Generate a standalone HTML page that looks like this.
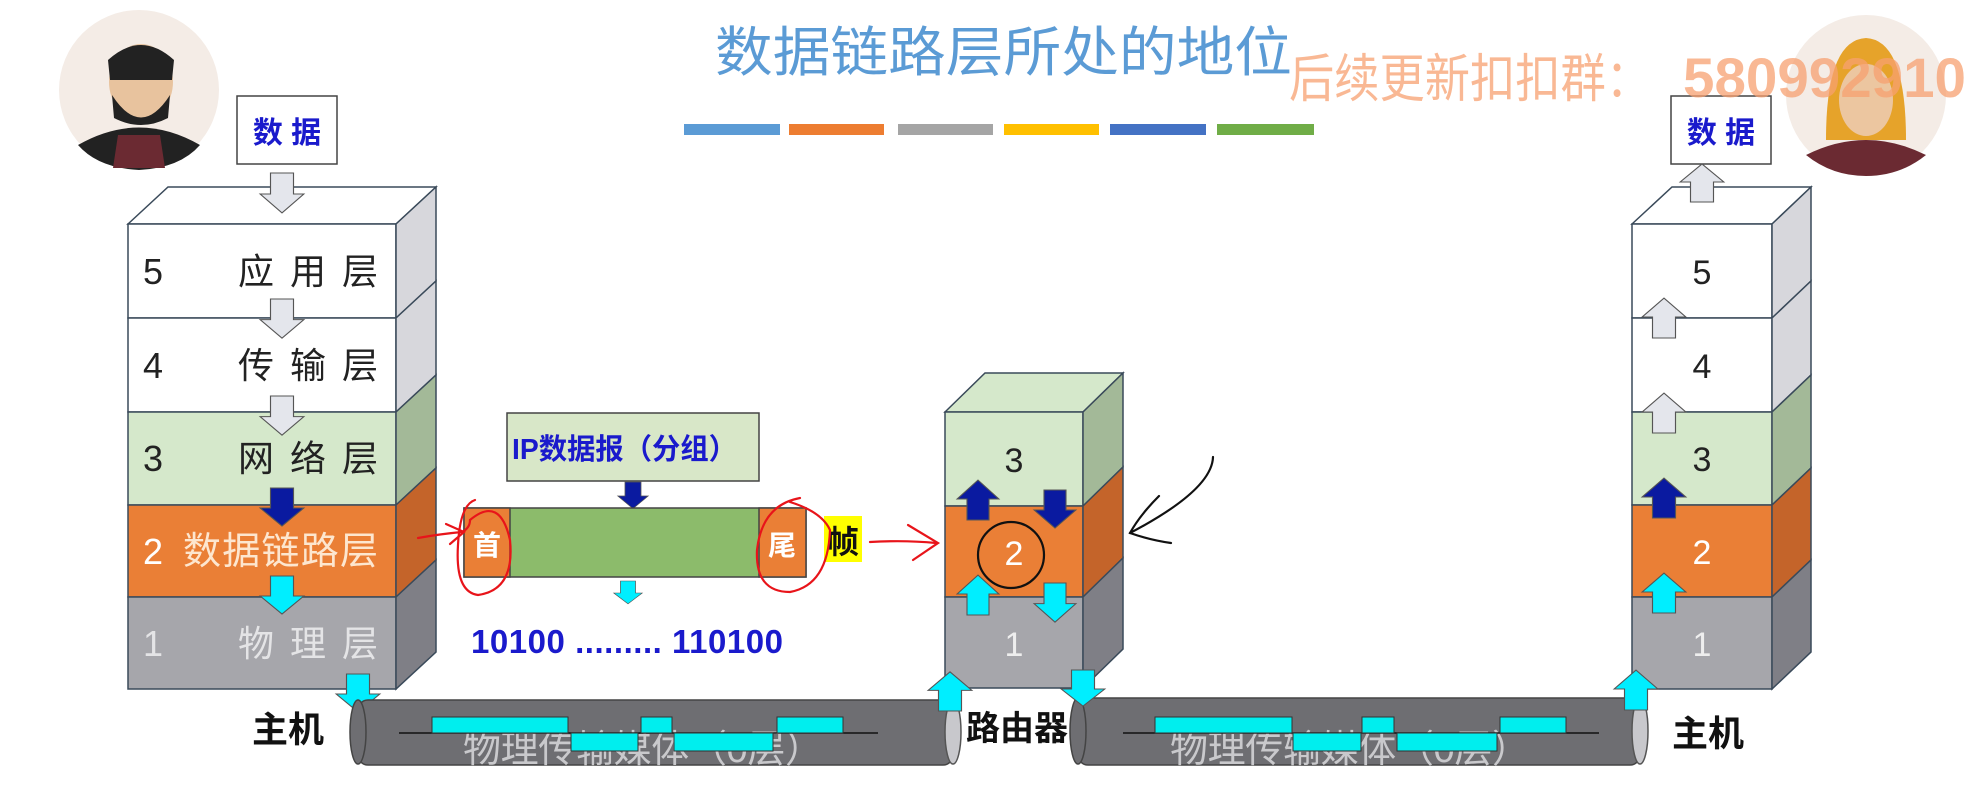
<!DOCTYPE html>
<html><head><meta charset="utf-8"><style>
html,body{margin:0;padding:0;background:#fff;}
svg{display:block;}
text{font-family:"Liberation Sans","Noto Sans CJK SC",sans-serif;}
</style></head><body>
<svg width="1981" height="798" viewBox="0 0 1981 798" xmlns="http://www.w3.org/2000/svg">
<defs>
<path id="dn" d="M-10 0 H10 V20 H19 L0 38 L-19 20 H-10 Z" stroke="#555" stroke-width="1"/>
</defs>
<rect width="1981" height="798" fill="#fff"/>

<!-- avatars -->
<circle cx="139" cy="90" r="80" fill="#f4ece6"/>
<path d="M78 145 Q139 110 200 145 Q180 168 139 170 Q98 168 78 145Z" fill="#222"/>
<path d="M118 135 L160 135 L165 168 L113 168Z" fill="#6b2a32"/>
<ellipse cx="141" cy="82" rx="32" ry="38" fill="#e8c39e"/>
<path d="M108 60 Q141 30 174 60 L172 80 L110 80Z" fill="#222"/>
<path d="M112 95 Q141 140 170 95 L168 118 Q141 132 114 118Z" fill="#222"/>
<circle cx="1866" cy="95" r="80" fill="#f4ece6"/>
<path d="M1806 155 Q1866 125 1926 155 Q1900 176 1866 176 Q1832 176 1806 155Z" fill="#6b2a32"/>
<path d="M1826 140 Q1826 40 1866 38 Q1906 40 1906 140Z" fill="#e6a32a"/>
<ellipse cx="1866" cy="100" rx="27" ry="36" fill="#ecc6a0"/>

<!-- title -->
<text x="715" y="71" font-size="54" fill="#5b9bd5" textLength="577" lengthAdjust="spacingAndGlyphs">数据链路层所处的地位</text>
<rect x="684" y="124" width="96" height="11" fill="#5b9bd5"/>
<rect x="789" y="124" width="95" height="11" fill="#ed7d31"/>
<rect x="898" y="124" width="95" height="11" fill="#a5a5a5"/>
<rect x="1004" y="124" width="95" height="11" fill="#ffc000"/>
<rect x="1110" y="124" width="96" height="11" fill="#4472c4"/>
<rect x="1217" y="124" width="97" height="11" fill="#70ad47"/>

<!-- data boxes -->
<rect x="237" y="96" width="100" height="68" fill="#fff" stroke="#444" stroke-width="1.5"/>
<text x="287" y="143" font-size="30" font-weight="bold" fill="#1a1acc" text-anchor="middle">数 据</text>
<rect x="1671" y="96" width="100" height="68" fill="#fff" stroke="#444" stroke-width="1.5"/>
<text x="1721" y="143" font-size="30" font-weight="bold" fill="#1a1acc" text-anchor="middle">数 据</text>

<!-- LEFT STACK -->
<g stroke="#3a4a5a" stroke-width="1.5">
<polygon points="128,224 168,187 436,187 396,224" fill="#fff"/>
<rect x="128" y="224" width="268" height="94" fill="#fff"/>
<polygon points="396,224 436,187 436,281 396,318" fill="#d7d7dc"/>
<rect x="128" y="318" width="268" height="94" fill="#fff"/>
<polygon points="396,318 436,281 436,375 396,412" fill="#d7d7dc"/>
<rect x="128" y="412" width="268" height="93" fill="#d5e8cb"/>
<polygon points="396,412 436,375 436,468 396,505" fill="#a3b998"/>
<rect x="128" y="505" width="268" height="92" fill="#ea7f36"/>
<polygon points="396,505 436,468 436,560 396,597" fill="#c4642a"/>
<rect x="128" y="597" width="268" height="92" fill="#a6a6ab"/>
<polygon points="396,597 436,560 436,652 396,689" fill="#7f7f86"/>
</g>
<g font-size="36">
<text x="143" y="284" fill="#222">5</text><text x="238" y="284" fill="#222" textLength="140">应用层</text>
<text x="143" y="378" fill="#222">4</text><text x="238" y="378" fill="#222" textLength="140">传输层</text>
<text x="143" y="471" fill="#222">3</text><text x="238" y="471" fill="#222" textLength="140">网络层</text>
<text x="143" y="564" fill="#fff">2</text><text x="183" y="564" fill="#fde6cf" font-size="38" textLength="195">数据链路层</text>
<text x="143" y="656" fill="#e4e4e6">1</text><text x="238" y="656" fill="#e4e4e6" textLength="140">物理层</text>
</g>
<g>
<use href="#dn" transform="translate(282,173) scale(1.15,1.05)" fill="#e4e6ec"/>
<use href="#dn" transform="translate(282,299) scale(1.15,1.03)" fill="#e4e6ec"/>
<use href="#dn" transform="translate(282,396) scale(1.15,1.03)" fill="#e4e6ec"/>
<use href="#dn" transform="translate(282,488) scale(1.15,1.0)" fill="#0a1aa0"/>
<use href="#dn" transform="translate(282,576) scale(1.15,1.0)" fill="#00eeff"/>
<use href="#dn" transform="translate(358,674) scale(1.15,1.0)" fill="#00eeff"/>
</g>

<!-- cylinders -->
<rect x="358" y="700" width="595" height="65" rx="10" fill="#6e6e72" stroke="#444" stroke-width="1.5"/>
<ellipse cx="358" cy="732" rx="8" ry="32" fill="#6e6e72" stroke="#444" stroke-width="1.5"/>
<ellipse cx="953" cy="732" rx="8" ry="32" fill="#c8c8cc" stroke="#555" stroke-width="1.5"/>
<text x="463" y="762" font-size="38" fill="#c9c9cc" textLength="360">物理传输媒体（0层）</text>
<line x1="399" y1="733" x2="878" y2="733" stroke="#111" stroke-width="1.5"/>
<g fill="#00eeee" stroke="#333" stroke-width="1">
<rect x="432" y="717" width="136" height="16"/><rect x="641" y="717" width="31" height="16"/><rect x="777" y="717" width="66" height="16"/>
<rect x="571" y="733" width="67" height="18"/><rect x="674" y="733" width="99" height="18"/>
</g>
<rect x="1078" y="698" width="562" height="67" rx="10" fill="#6e6e72" stroke="#444" stroke-width="1.5"/>
<ellipse cx="1078" cy="731" rx="8" ry="33" fill="#6e6e72" stroke="#444" stroke-width="1.5"/>
<ellipse cx="1640" cy="731" rx="8" ry="33" fill="#c8c8cc" stroke="#555" stroke-width="1.5"/>
<text x="1170" y="762" font-size="38" fill="#c9c9cc" textLength="360">物理传输媒体（0层）</text>
<line x1="1123" y1="733" x2="1599" y2="733" stroke="#111" stroke-width="1.5"/>
<g fill="#00eeee" stroke="#333" stroke-width="1">
<rect x="1155" y="717" width="137" height="16"/><rect x="1362" y="717" width="32" height="16"/><rect x="1500" y="717" width="66" height="16"/>
<rect x="1293" y="733" width="68" height="18"/><rect x="1397" y="733" width="100" height="18"/>
</g>

<text x="252" y="742" font-size="36" font-weight="bold" fill="#111">主机</text>
<text x="966" y="740" font-size="34" font-weight="bold" fill="#111">路由器</text>
<text x="1672" y="746" font-size="36" font-weight="bold" fill="#111">主机</text>

<!-- frame -->
<rect x="507" y="413" width="252" height="68" fill="#d8e7c8" stroke="#444" stroke-width="1.5"/>
<text x="512" y="459" font-size="29" font-weight="bold" fill="#1a1acc" textLength="225" lengthAdjust="spacingAndGlyphs">IP数据报（分组）</text>
<use href="#dn" transform="translate(633,482) scale(0.8,0.7)" fill="#0a1aa0"/>
<rect x="464" y="508" width="342" height="69" fill="#8cbb6b" stroke="#444" stroke-width="1.5"/>
<rect x="464" y="508" width="46" height="69" fill="#ea7f36" stroke="#444" stroke-width="1.5"/>
<rect x="759" y="508" width="47" height="69" fill="#ea7f36" stroke="#444" stroke-width="1.5"/>
<text x="487" y="555" font-size="28" font-weight="bold" fill="#fff" text-anchor="middle">首</text>
<text x="782" y="555" font-size="28" font-weight="bold" fill="#fff" text-anchor="middle">尾</text>
<rect x="824" y="516" width="38" height="46" fill="#ffff00"/>
<text x="843" y="553" font-size="32" font-weight="bold" fill="#111" text-anchor="middle">帧</text>
<use href="#dn" transform="translate(628,581) scale(0.75,0.6)" fill="#00eeff"/>
<text x="471" y="653" font-size="33" font-weight="bold" fill="#1a1acc" textLength="312">10100 ......... 110100</text>

<!-- red annotations -->
<g fill="none" stroke="#e8141a" stroke-width="2.2" stroke-linecap="round">
<path d="M418 538 Q440 534 462 532 Q470 528 470 520"/>
<path d="M446 524 L464 532 L450 544"/>
<path d="M470 520 Q500 495 510 540 Q515 590 478 595 Q455 592 458 545 Q460 505 475 500"/>
<path d="M790 502 Q822 512 830 530 Q828 585 790 592 Q755 592 757 550 Q762 505 800 498"/>
<path d="M870 542 Q905 540 936 543"/>
<path d="M908 525 L938 543 L913 560"/>
</g>

<!-- ROUTER -->
<g stroke="#3a4a5a" stroke-width="1.5">
<polygon points="945,412 985,373 1123,373 1083,412" fill="#d5e8cb"/>
<rect x="945" y="412" width="138" height="94" fill="#d5e8cb"/>
<polygon points="1083,412 1123,373 1123,467 1083,506" fill="#a3b998"/>
<rect x="945" y="506" width="138" height="91" fill="#ea7f36"/>
<polygon points="1083,506 1123,467 1123,558 1083,597" fill="#c4642a"/>
<rect x="945" y="597" width="138" height="91" fill="#a6a6ab"/>
<polygon points="1083,597 1123,558 1123,649 1083,688" fill="#7f7f86"/>
</g>
<text x="1014" y="472" font-size="34" fill="#222" text-anchor="middle">3</text>
<text x="1014" y="565" font-size="34" fill="#fff" text-anchor="middle">2</text>
<text x="1014" y="656" font-size="34" fill="#eee" text-anchor="middle">1</text>
<use href="#dn" transform="translate(978,520) scale(1.1,-1.05)" fill="#0a1aa0"/>
<use href="#dn" transform="translate(1055,490) scale(1.1,1.0)" fill="#0a1aa0"/>
<use href="#dn" transform="translate(978,615) scale(1.1,-1.05)" fill="#00eeff"/>
<use href="#dn" transform="translate(1055,583) scale(1.1,1.03)" fill="#00eeff"/>
<use href="#dn" transform="translate(950,711) scale(1.15,-1.03)" fill="#00eeff"/>
<use href="#dn" transform="translate(1083,670) scale(1.15,0.95)" fill="#00eeff"/>
<ellipse cx="1011" cy="555" rx="33" ry="33" fill="none" stroke="#111" stroke-width="2.2"/>
<g fill="none" stroke="#111" stroke-width="2.2" stroke-linecap="round">
<path d="M1213 457 Q1212 490 1130 533"/>
<path d="M1159 496 Q1140 515 1130 533 Q1150 540 1171 543"/>
</g>

<!-- RIGHT HOST -->
<g stroke="#3a4a5a" stroke-width="1.5">
<polygon points="1632,224 1672,187 1811,187 1772,224" fill="#fff"/>
<rect x="1632" y="224" width="140" height="94" fill="#fff"/>
<polygon points="1772,224 1811,187 1811,281 1772,318" fill="#d7d7dc"/>
<rect x="1632" y="318" width="140" height="94" fill="#fff"/>
<polygon points="1772,318 1811,281 1811,375 1772,412" fill="#d7d7dc"/>
<rect x="1632" y="412" width="140" height="93" fill="#d5e8cb"/>
<polygon points="1772,412 1811,375 1811,468 1772,505" fill="#a3b998"/>
<rect x="1632" y="505" width="140" height="92" fill="#ea7f36"/>
<polygon points="1772,505 1811,468 1811,560 1772,597" fill="#c4642a"/>
<rect x="1632" y="597" width="140" height="92" fill="#a6a6ab"/>
<polygon points="1772,597 1811,560 1811,652 1772,689" fill="#7f7f86"/>
</g>
<g font-size="34" text-anchor="middle">
<text x="1702" y="284" fill="#222">5</text>
<text x="1702" y="378" fill="#222">4</text>
<text x="1702" y="471" fill="#222">3</text>
<text x="1702" y="564" fill="#fff">2</text>
<text x="1702" y="656" fill="#eee">1</text>
</g>
<use href="#dn" transform="translate(1702,202) scale(1.15,-1.0)" fill="#e4e6ec"/>
<use href="#dn" transform="translate(1664,338) scale(1.15,-1.05)" fill="#e4e6ec"/>
<use href="#dn" transform="translate(1664,433) scale(1.15,-1.05)" fill="#e4e6ec"/>
<use href="#dn" transform="translate(1664,518) scale(1.15,-1.05)" fill="#0a1aa0"/>
<use href="#dn" transform="translate(1664,613) scale(1.15,-1.05)" fill="#00eeff"/>
<use href="#dn" transform="translate(1636,710) scale(1.15,-1.05)" fill="#00eeff"/>

<!-- watermark -->
<text x="1289" y="97" font-size="52" fill="#f7a070" fill-opacity="0.75" textLength="362" lengthAdjust="spacingAndGlyphs">后续更新扣扣群：</text>
<text x="1683" y="97" font-size="56" font-weight="bold" fill="#f7a070" fill-opacity="0.75" textLength="283" lengthAdjust="spacingAndGlyphs">580992910</text>
</svg>
</body></html>
